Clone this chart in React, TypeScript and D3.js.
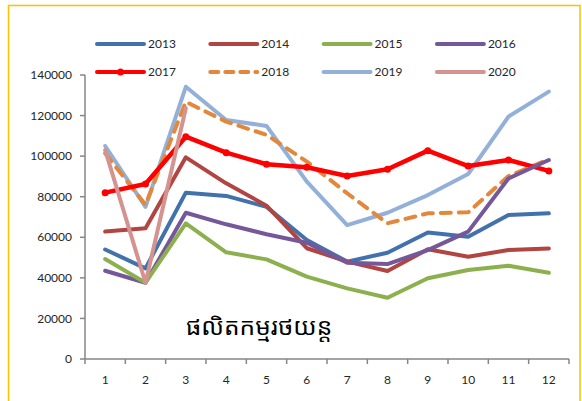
import React from "react";
import * as d3 from "d3";

const months = ["1", "2", "3", "4", "5", "6", "7", "8", "9", "10", "11", "12"];
const yTicks = [0, 20000, 40000, 60000, 80000, 100000, 120000, 140000];

const s2013 = [54000, 44700, 82000, 80400, 75000, 58700, 48000, 52400, 62400, 60300, 71000, 71800];
const s2014 = [62800, 64400, 99400, 86600, 75600, 54600, 48000, 43400, 54100, 50400, 53700, 54500];
const s2015 = [49300, 37600, 66900, 52600, 49100, 40600, 34800, 30200, 39800, 43900, 46000, 42500];
const s2016 = [43500, 37600, 72100, 66400, 61500, 57300, 47500, 46800, 53700, 62800, 89000, 98100];
const s2017 = [82000, 86300, 109600, 101700, 96000, 94500, 90200, 93500, 102700, 95100, 98100, 92700];
const s2018 = [101400, 76000, 126800, 117000, 110500, 97300, 81700, 66900, 71800, 72300, 90200, 98400];
const s2019 = [105000, 75000, 134200, 117800, 114900, 87400, 66000, 72100, 80800, 91200, 119500, 131800];
const s2020 = [103000, 37600, 123600];

const seriesNames = ["2013", "2014", "2015", "2016", "2017", "2018", "2019", "2020"];
const seriesData = [s2013, s2014, s2015, s2016, s2017, s2018, s2019, s2020];
const seriesColors = ["#4272AC", "#B04542", "#8DB04E", "#75589A", "#FF0000", "#E2883C", "#93B1D8", "#D59390"];
const title = "ផលិតកម្មរថយន្ត";

const W = 582;
const H = 401;
const plotLeft = 85;
const plotRight = 569;
const plotTop = 75;
const plotBottom = 359;
const font = "Lato, 'Open Sans', sans-serif";

export default function App() {
  const x = d3.scaleBand<string>().domain(months).range([plotLeft, plotRight]).padding(0);
  const y = d3.scaleLinear().domain([0, 140000]).range([plotBottom, plotTop]);
  const cx = (i: number) => (x(months[i]) as number) + x.bandwidth() / 2;
  const line = d3
    .line<number>()
    .x((_, i) => cx(i))
    .y((d) => y(d));

  const order = [6, 5, 4, 0, 1, 3, 2, 7];

  return (
    <svg
      width={W}
      height={H}
      style={{ position: "absolute", left: 0, top: 0, background: "#fff" }}
      fontFamily={font}
    >
      <rect x={8.5} y={5.5} width={571.5} height={400} fill="#fff" stroke="#FFC000" strokeWidth={1.5} />

      {/* y axis */}
      <line x1={plotLeft} x2={plotLeft} y1={plotTop} y2={plotBottom} stroke="#868686" strokeWidth={1.5} />
      {yTicks.map((t) => (
        <g key={t}>
          <line x1={plotLeft - 5} x2={plotLeft} y1={y(t)} y2={y(t)} stroke="#868686" strokeWidth={1.5} />
          <text x={72} y={y(t)} dy="0.35em" textAnchor="end" fontSize={12} fill="#262626">
            {t}
          </text>
        </g>
      ))}

      {/* x axis */}
      <line x1={plotLeft} x2={plotRight} y1={plotBottom} y2={plotBottom} stroke="#868686" strokeWidth={1.5} />
      {months.map((m, i) => (
        <g key={m}>
          <line
            x1={(x(m) as number) + x.bandwidth()}
            x2={(x(m) as number) + x.bandwidth()}
            y1={plotBottom}
            y2={plotBottom + 5}
            stroke="#868686"
            strokeWidth={1.5}
          />
          <text x={cx(i)} y={380} dy="0.35em" textAnchor="middle" fontSize={12} fill="#262626">
            {m}
          </text>
        </g>
      ))}
      <line x1={plotLeft} x2={plotLeft} y1={plotBottom} y2={plotBottom + 5} stroke="#868686" strokeWidth={1.5} />

      {/* series */}
      {order.map((k) => (
        <path
          key={seriesNames[k]}
          d={line(seriesData[k]) || ""}
          fill="none"
          stroke={seriesColors[k]}
          strokeWidth={k === 4 ? 4.5 : 4}
          strokeLinejoin="round"
          strokeLinecap="round"
          strokeDasharray={k === 5 ? "10 8" : undefined}
        />
      ))}
      {s2017.map((v, i) => (
        <circle key={i} cx={cx(i)} cy={y(v)} r={3.5} fill="#FF0000" />
      ))}

      {/* legend */}
      {seriesNames.map((n, k) => {
        const col = k % 4;
        const row = Math.floor(k / 4);
        const lx = 97 + col * 113.3;
        const ly = 44 + row * 28;
        return (
          <g key={n}>
            <line
              x1={lx}
              x2={lx + 47}
              y1={ly}
              y2={ly}
              stroke={seriesColors[k]}
              strokeWidth={4}
              strokeLinecap="round"
              strokeDasharray={k === 5 ? "8 7" : undefined}
            />
            {k === 4 && <circle cx={lx + 23.5} cy={ly} r={3.5} fill="#FF0000" />}
            <text x={lx + 51} y={ly} dy="0.35em" fontSize={12} fill="#262626">
              {n}
            </text>
          </g>
        );
      })}

      <text
        x={259}
        y={335}
        textAnchor="middle"
        fontSize={24.5}
        fill="#000"
        fontFamily="'Khmer OS', 'Noto Sans Khmer', 'Noto Serif Khmer', 'Khmer OS System', serif"
      >
        {title}
      </text>
    </svg>
  );
}
